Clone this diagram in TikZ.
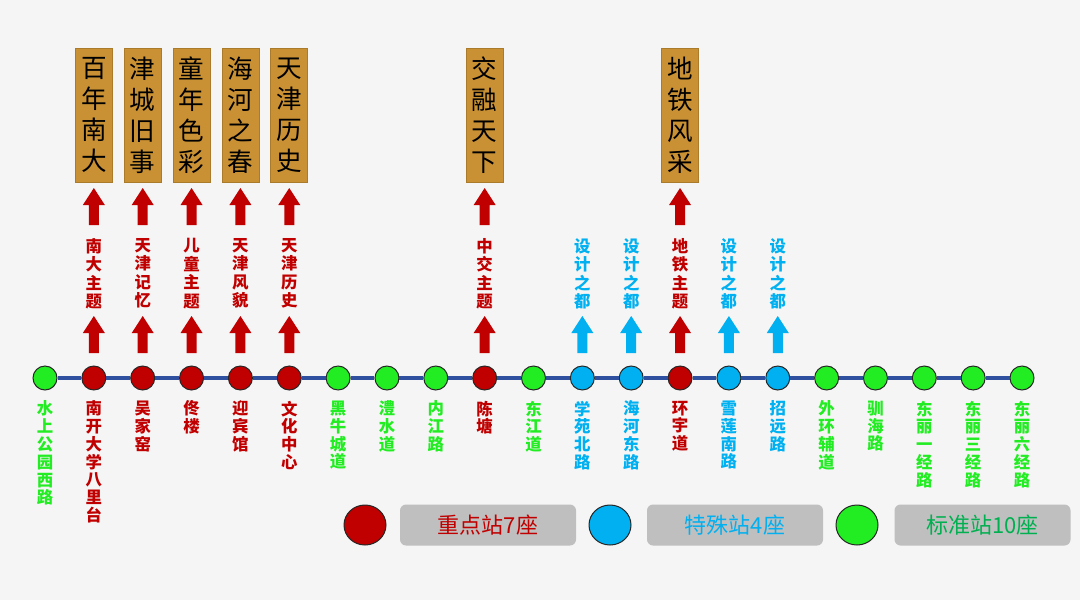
\documentclass[tikz,border=0pt]{standalone}
\usepackage{fontspec}
\setmainfont{Noto Sans CJK SC}
\usetikzlibrary{positioning,shapes.geometric}

\definecolor{keyred}{RGB}{192,0,0}
\definecolor{specblue}{RGB}{0,176,240}
\definecolor{stdgreen}{RGB}{34,236,34}
\definecolor{leggreen}{RGB}{0,176,80}
\definecolor{trackblue}{RGB}{47,80,158}
\definecolor{boxbrown}{RGB}{201,145,52}
\definecolor{bgcol}{RGB}{245,245,245}
\definecolor{leggray}{RGB}{191,191,191}

\begin{document}
\begin{tikzpicture}[x=0.5pt,y=-0.5pt,
  station/.style={circle,draw=black!85,line width=0.5pt,minimum size=12pt,inner sep=0pt},
  stname/.style={font=\bfseries\fontsize{8.2}{8.9}\selectfont,align=center,inner sep=0pt},
  track/.style={draw=trackblue,line width=2pt},
  themelabel/.style={anchor=north,font=\bfseries\fontsize{8.2}{9.25}\selectfont,align=center,inner sep=0pt},
  themebox/.style={rectangle,fill=boxbrown,draw=boxbrown!85!black,line width=0.4pt,minimum width=18.5pt,minimum height=67pt,inner sep=0pt,align=center,text=black,font=\fontsize{12.8}{15.5}\selectfont},
  legdot/.style={ellipse,draw=black!85,line width=0.5pt,minimum width=21pt,minimum height=20pt,inner sep=0pt},
  legbox/.style={rectangle,rounded corners=3pt,fill=leggray,minimum width=88pt,minimum height=20.5pt,inner sep=0pt,font=\fontsize{11}{12}\selectfont},
  blockup/.pic={\path[pic actions] (-2.5pt,0pt) -- (2.5pt,0pt) -- (2.5pt,10pt) -- (5.5pt,10pt) -- (0pt,18.5pt) -- (-5.5pt,10pt) -- (-2.5pt,10pt) -- cycle;}]
\fill[bgcol] (0,0) rectangle (1080,600);
\useasboundingbox (0,0) rectangle (1080,600);

% stations along the line
\foreach \i/\nm/\col [evaluate=\i as \x using 45+\i*48.85] in {
  0/{水\\上\\公\\园\\西\\路}/stdgreen, 1/{南\\开\\大\\学\\八\\里\\台}/keyred,
  2/{吴\\家\\窑}/keyred, 3/{佟\\楼}/keyred, 4/{迎\\宾\\馆}/keyred,
  5/{文\\化\\中\\心}/keyred, 6/{黑\\牛\\城\\道}/stdgreen, 7/{澧\\水\\道}/stdgreen,
  8/{内\\江\\路}/stdgreen, 9/{陈\\塘}/keyred, 10/{东\\江\\道}/stdgreen,
  11/{学\\苑\\北\\路}/specblue, 12/{海\\河\\东\\路}/specblue, 13/{环\\宇\\道}/keyred,
  14/{雪\\莲\\南\\路}/specblue, 15/{招\\远\\路}/specblue, 16/{外\\环\\辅\\道}/stdgreen,
  17/{驯\\海\\路}/stdgreen, 18/{东\\丽\\一\\经\\路}/stdgreen,
  19/{东\\丽\\三\\经\\路}/stdgreen, 20/{东\\丽\\六\\经\\路}/stdgreen}{
  \node[station,fill=\col] (s\i) at (\x,378) {};
  \node[stname,text=\col,below=5pt of s\i] (n\i) {\nm};
}
\foreach \i [evaluate=\i as \j using int(\i-1)] in {1,...,20}
  \draw[track] (s\j) -- (s\i);

% key stations with themes
\foreach \i/\lab/\ttl [evaluate=\i as \x using 45+\i*48.85] in {
  1/{南\\大\\主\\题}/{百\\年\\南\\大}, 2/{天\\津\\记\\忆}/{津\\城\\旧\\事},
  3/{儿\\童\\主\\题}/{童\\年\\色\\彩}, 4/{天\\津\\风\\貌}/{海\\河\\之\\春},
  5/{天\\津\\历\\史}/{天\\津\\历\\史}, 9/{中\\交\\主\\题}/{交\\融\\天\\下},
  13/{地\\铁\\主\\题}/{地\\铁\\风\\采}}{
  \pic[fill=keyred] at (\x,353) {blockup};
  \node[themelabel,text=keyred] (l\i) at (\x,238) {\lab};
  \pic[fill=keyred] at (\x,225) {blockup};
  \node[themebox] (b\i) at (\x,115) {\ttl};
}

% special stations
\foreach \i [evaluate=\i as \x using 45+\i*48.85] in {11,12,14,15}{
  \pic[fill=specblue] at (\x,353) {blockup};
  \node[themelabel,text=specblue] (l\i) at (\x,238) {设\\计\\之\\都};
}

% legend
\node[legdot,fill=keyred] (kd) at (365,525) {};
\node[legbox,text=keyred] (kb) at (488,525) {重点站7座};
\node[legdot,fill=specblue] (pd) at (610,525) {};
\node[legbox,text=specblue] (pb) at (735,525) {特殊站4座};
\node[legdot,fill=stdgreen] (gd) at (857,525) {};
\node[legbox,text=leggreen] (gb) at (982.5,525) {标准站10座};
\end{tikzpicture}
\end{document}
